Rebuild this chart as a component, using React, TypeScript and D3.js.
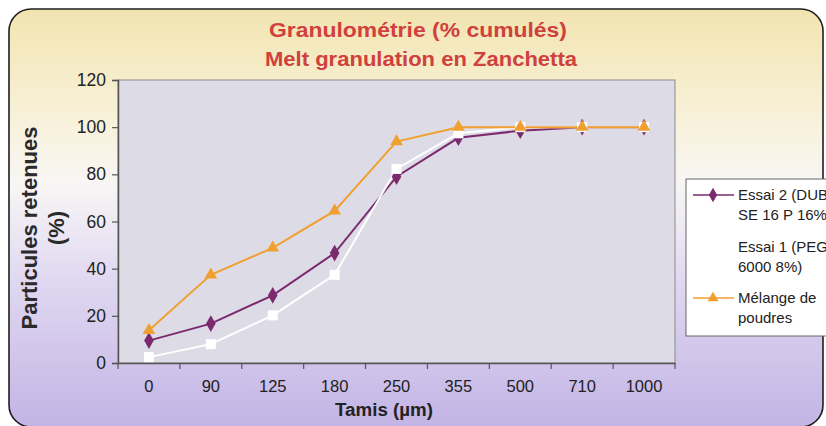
import React, { useEffect, useRef } from 'react';
import * as d3 from 'd3';

const sieves = ['0', '90', '125', '180', '250', '355', '500', '710', '1000'];
const essai2 = [9.5, 16.7, 28.7, 46.6, 79, 95.5, 98.5, 100, 100];
const essai1 = [2.5, 8, 20.2, 37.4, 82.3, 97.4, 100, 100, 100];
const melange = [13.9, 37.4, 48.8, 64.5, 93.9, 100, 100, 100, 100];
const yTicks = [0, 20, 40, 60, 80, 100, 120];

const series = [
  { name: ['Essai 2 (DUB', 'SE 16 P 16%)'], values: essai2, color: '#7b2a6e', marker: 'diamond' },
  { name: ['Essai 1 (PEG', '6000 8%)'], values: essai1, color: '#ffffff', marker: 'square' },
  { name: ['Mélange de', 'poudres'], values: melange, color: '#f0a030', marker: 'triangle' },
];

const W = 826;
const H = 426;

const App = () => {
  const svgRef = useRef<SVGSVGElement>(null);

  useEffect(() => {
    const svgEl = svgRef.current;
    if (!svgEl) return;
    d3.select(svgEl).selectAll('*').remove();

    const svg = d3.select(svgEl);
    const defs = svg.append('defs');

    const bg = defs.append('linearGradient')
      .attr('id', 'bgGrad')
      .attr('x1', 0).attr('y1', 0).attr('x2', 0).attr('y2', 1);
    [
      [0, '#f2e4b0'],
      [0.25, '#f8f1d8'],
      [0.42, '#f8f6f5'],
      [0.65, '#e0d8f1'],
      [1, '#c3b4e5'],
    ].forEach(([o, c]) => bg.append('stop').attr('offset', o as number).attr('stop-color', c as string));

    // outer frame
    svg.append('rect')
      .attr('x', 9).attr('y', 9)
      .attr('width', 814).attr('height', 418)
      .attr('rx', 22)
      .attr('fill', 'url(#bgGrad)')
      .attr('stroke', '#1e1e1e')
      .attr('stroke-width', 1.6);

    const m = { left: 118, right: 675, top: 80, bottom: 363 };

    const x = d3.scaleBand().domain(sieves).range([m.left, m.right]);
    const y = d3.scaleLinear().domain([0, 120]).range([m.bottom, m.top]);

    // plot area
    svg.append('rect')
      .attr('x', m.left).attr('y', m.top)
      .attr('width', m.right - m.left).attr('height', m.bottom - m.top)
      .attr('fill', '#dddce6')
      .attr('stroke', '#8a8a8a')
      .attr('stroke-width', 1);

    // axes
    const font = 'Arial, "Liberation Sans", sans-serif';
    const yAxis = svg.append('g')
      .attr('transform', `translate(${m.left},0)`)
      .call(d3.axisLeft(y).tickValues(yTicks).tickSize(6).tickPadding(6));
    yAxis.select('.domain').attr('stroke', '#555').attr('stroke-width', 1.5);
    yAxis.selectAll('.tick line').attr('stroke', '#555').attr('stroke-width', 1.2);
    yAxis.selectAll('.tick text')
      .attr('font-family', font).attr('font-size', 17.5).attr('fill', '#222');

    const xAxis = svg.append('g')
      .attr('transform', `translate(0,${m.bottom})`)
      .call(d3.axisBottom(x).tickSize(0).tickPadding(17));
    xAxis.select('.domain').attr('stroke', '#555').attr('stroke-width', 1.5);
    xAxis.selectAll('.tick text')
      .attr('font-family', font).attr('font-size', 16.5).attr('fill', '#222');
    // tick marks between categories
    svg.append('g')
      .selectAll('line')
      .data(sieves.map((s) => x(s)!).concat([m.right]))
      .join('line')
      .attr('x1', (d) => d).attr('x2', (d) => d)
      .attr('y1', m.bottom).attr('y2', m.bottom + 6)
      .attr('stroke', '#555').attr('stroke-width', 1.2);

    const cx = (i: number) => x(sieves[i])! + x.bandwidth() / 2;
    const line = d3.line<number>().x((_, i) => cx(i)).y((d) => y(d));

    const drawMarker = (g: any, kind: string, color: string, k = 1) => {
      if (kind === 'diamond') {
        g.append('path').attr('d', d3.symbol(d3.symbolDiamond, 80 * k)()).attr('fill', color);
      } else if (kind === 'square') {
        const h = 5 * Math.sqrt(k);
        g.append('rect').attr('x', -h).attr('y', -h).attr('width', 2 * h).attr('height', 2 * h).attr('fill', color);
      } else {
        g.append('path').attr('d', d3.symbol(d3.symbolTriangle, 70 * k)()).attr('fill', color);
      }
    };

    series.forEach((s) => {
      svg.append('path')
        .datum(s.values)
        .attr('d', line)
        .attr('fill', 'none')
        .attr('stroke', s.color)
        .attr('stroke-width', 2);
    });
    series.forEach((s) => {
      s.values.forEach((v, i) => {
        const g = svg.append('g').attr('transform', `translate(${cx(i)},${y(v)})`);
        drawMarker(g, s.marker, s.color);
      });
    });

    // titles
    const titleStyle = (t: any) => t
      .attr('text-anchor', 'middle')
      .attr('font-family', font).attr('font-weight', 'bold').attr('font-size', 19.5)
      .attr('fill', '#d0403c');
    titleStyle(svg.append('text'))
      .attr('x', 418).attr('y', 37)
      .attr('textLength', 298).attr('lengthAdjust', 'spacingAndGlyphs')
      .text('Granulométrie (% cumulés)');
    titleStyle(svg.append('text'))
      .attr('x', 421).attr('y', 66)
      .attr('textLength', 312).attr('lengthAdjust', 'spacingAndGlyphs')
      .text('Melt granulation en Zanchetta');

    svg.append('text')
      .attr('x', 384).attr('y', 416)
      .attr('text-anchor', 'middle')
      .attr('font-family', font).attr('font-weight', 'bold').attr('font-size', 17.5)
      .attr('textLength', 98).attr('lengthAdjust', 'spacingAndGlyphs')
      .attr('fill', '#222')
      .text('Tamis (µm)');

    const yl = svg.append('text')
      .attr('transform', 'translate(0,228) rotate(-90)')
      .attr('text-anchor', 'middle')
      .attr('font-family', font).attr('font-weight', 'bold').attr('font-size', 22)
      .attr('fill', '#2a2a2a');
    yl.append('tspan').attr('x', 0).attr('y', 37).text('Particules retenues');
    yl.append('tspan').attr('x', 0).attr('y', 64).text('(%)');

    // legend
    const lg = svg.append('g');
    lg.append('rect')
      .attr('x', 686).attr('y', 179).attr('width', 160).attr('height', 157)
      .attr('fill', '#ffffff').attr('stroke', '#666').attr('stroke-width', 1);
    const rowY = [195, 247, 298];
    series.forEach((s, i) => {
      const yy = rowY[i];
      lg.append('line')
        .attr('x1', 693).attr('x2', 734).attr('y1', yy).attr('y2', yy)
        .attr('stroke', s.color).attr('stroke-width', 1.5);
      const g = lg.append('g').attr('transform', `translate(713,${yy})`);
      drawMarker(g, s.marker, s.color, 0.75);
      const t = lg.append('text')
        .attr('font-family', font).attr('font-size', 15).attr('fill', '#222');
      t.append('tspan').attr('x', 738).attr('y', yy + 5).text(s.name[0]);
      t.append('tspan').attr('x', 738).attr('y', yy + 25).text(s.name[1]);
    });
  }, []);

  return (
    <div style={{ position: 'absolute', left: 0, top: 0, width: W, height: H, overflow: 'hidden', background: '#fff' }}>
      <svg ref={svgRef} width={W} height={H} viewBox={`0 0 ${W} ${H}`} />
    </div>
  );
};

export default App;
